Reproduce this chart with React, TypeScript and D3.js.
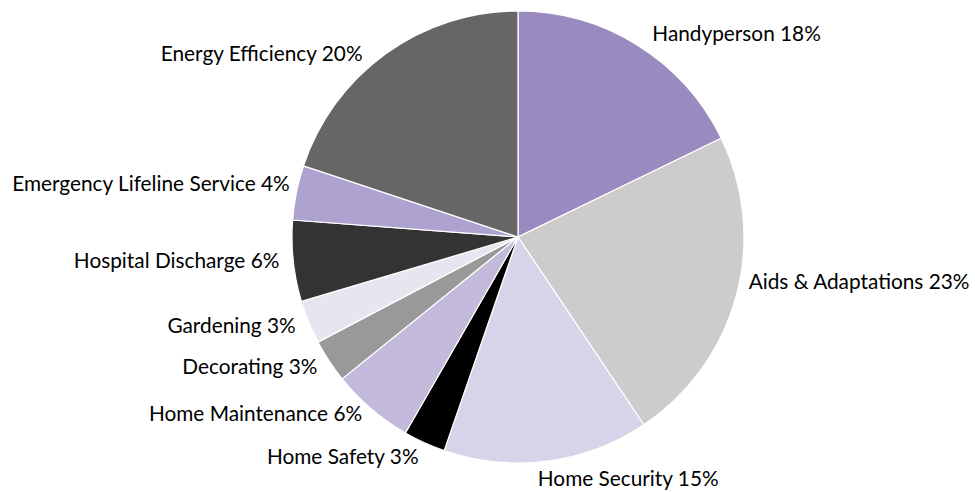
import React from "react";
import * as d3 from "d3";

const categories = [
  "Handyperson",
  "Aids & Adaptations",
  "Home Security",
  "Home Safety",
  "Home Maintenance",
  "Decorating",
  "Gardening",
  "Hospital Discharge",
  "Emergency Lifeline Service",
  "Energy Efficiency",
];
const values = [17.8, 22.8, 14.7, 3.0, 5.9, 3.1, 3.1, 5.8, 3.9, 19.9];
const colors = [
  "#998bc0",
  "#cccccc",
  "#d8d3e8",
  "#000000",
  "#c3b9da",
  "#999999",
  "#e8e5f0",
  "#333333",
  "#ada2d0",
  "#666666",
];

// small manual label nudges (layout only), as in the original chart
const labelNudge: Record<string, [number, number]> = {
  "Handyperson": [7, 2],
  "Aids & Adaptations": [-1, -16],
  "Home Security": [-11, 6],
  "Home Safety": [0, 3],
  "Home Maintenance": [0, -4],
  "Emergency Lifeline Service": [7, -4],
  "Energy Efficiency": [-15, 13],
};

const W = 975;
const H = 492;
const cx = 518;
const cy = 237;
const radius = 226;
const labelR = 240;

export default function App() {
  const data = categories.map((c, i) => ({ name: c, value: values[i], color: colors[i] }));
  const total = d3.sum(values);
  const pie = d3
    .pie<any>()
    .sort(null)
    .value((d: any) => d.value)
    .startAngle(0)
    .endAngle(2 * Math.PI);
  const arcs = pie(data);
  const arc = d3.arc<any>().innerRadius(0).outerRadius(radius);
  const fmt = (v: number) => `${Math.round((v / total) * 100)}%`;

  return (
    <svg
      width={W}
      height={H}
      style={{ position: "absolute", left: 0, top: 0, background: "#fff" }}
      fontFamily="Lato, 'Noto Sans', sans-serif"
    >
      <g transform={`translate(${cx},${cy})`}>
        {arcs.map((a, i) => (
          <path key={i} d={arc(a) as string} fill={a.data.color} stroke="#fff" strokeWidth={1.2} />
        ))}
        {arcs.map((a, i) => {
          const mid = (a.startAngle + a.endAngle) / 2;
          const [nx, ny] = labelNudge[a.data.name] || [0, 0];
          const x = labelR * Math.sin(mid) + nx;
          const y = -labelR * Math.cos(mid) + ny;
          const anchor = Math.sin(mid) >= 0 ? "start" : "end";
          return (
            <text
              key={"l" + i}
              x={x}
              y={y}
              textAnchor={anchor}
              dominantBaseline="middle"
              fontSize={20.8}
              fill="#000"
            >
              {`${a.data.name} ${fmt(a.data.value)}`}
            </text>
          );
        })}
      </g>
    </svg>
  );
}
